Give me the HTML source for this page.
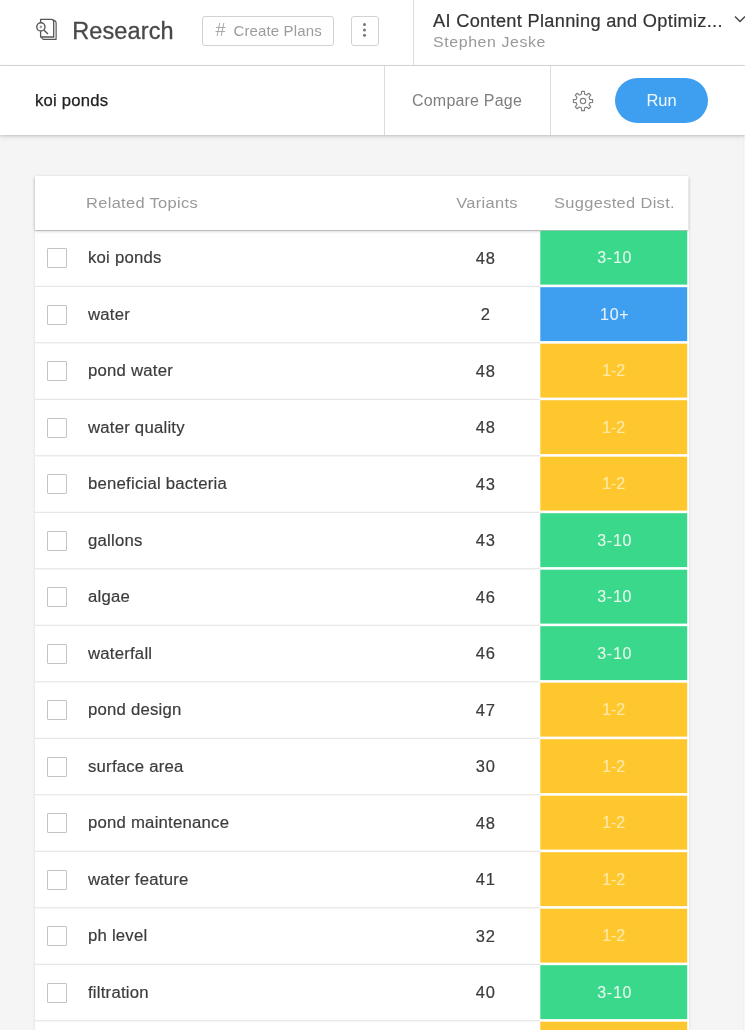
<!DOCTYPE html>
<html><head><meta charset="utf-8">
<style>
*{box-sizing:border-box;margin:0;padding:0}
html,body{width:745px;height:1030px;overflow:hidden;background:#f5f5f5;font-family:"Liberation Sans",sans-serif;color:#333}
.top{position:absolute;left:0;top:0;width:745px;height:66px;background:#fff;border-bottom:1px solid #dcdcdc}
.bar{position:absolute;left:0;top:66px;width:745px;height:68.8px;background:#fff;box-shadow:0 1px 2.5px rgba(0,0,0,.16),0 2px 6px rgba(0,0,0,.08)}
.abs{position:absolute;white-space:nowrap}
.vline{position:absolute;width:1px;background:#dcdcdc}
.btn{position:absolute;border:1px solid #d2d2d2;border-radius:3px;background:#fff;color:#8a8a8a}
.card{position:absolute;left:35px;top:176px;width:653.5px;height:900px;background:#fff;box-shadow:0 1.5px 3px rgba(0,0,0,.11)}
.hdr{position:absolute;left:0;top:0;width:653px;height:54px;box-shadow:0 1px 0 rgba(0,0,0,.13),0 1px 3px rgba(0,0,0,.24);color:#999;font-size:15.5px;letter-spacing:.31px}
.hdr .abs{transform:scaleX(1.06);transform-origin:50% 50%}
.row{position:absolute;left:0;width:653px;height:56.5px;font-size:15.8px;color:#3c3c3c}
.cb{position:absolute;left:12px;top:18px;width:20px;height:20px;border:1px solid #c4c4c4;border-radius:1px;background:#fff}
.nm{-webkit-text-stroke:.18px #3c3c3c;position:absolute;left:52.8px;top:0;line-height:55px;white-space:nowrap;letter-spacing:.2px;transform:scaleX(1.06);transform-origin:0 50%}
.vr{-webkit-text-stroke:.2px #3c3c3c;position:absolute;left:400.4px;top:.8px;width:100px;text-align:center;line-height:55px;font-size:16.5px;letter-spacing:.8px;text-indent:.8px}
.ds{position:absolute;left:505.6px;top:1px;width:146.6px;height:53.7px;color:#e6f8ee;text-align:center;line-height:53.6px;font-size:16px;letter-spacing:.75px;text-indent:1.6px}
.ds{-webkit-text-stroke:.12px currentColor}.b{color:#e4f1fd}.y{color:#ffe9a6;letter-spacing:0;text-indent:-.4px}
</style></head><body>
<div class="abs" style="left:742.5px;top:135px;width:3px;height:900px;background:#f7f7f7;border-left:1px solid #f0f0f0"></div>
<div class="top">
  <svg class="abs" style="left:28px;top:10px" width="40" height="40" viewBox="28 10 40 40" fill="none" stroke="#555" stroke-width="1.3" stroke-linejoin="round">
    <path d="M40.6 22.6V19.3H51.3a2.4 2.4 0 0 1 2.4 2.4V37H40.6V31.2"/><path d="M53.3 20.2q2.8.6 2.8 3V39.3H43.2L41.4 37.4" stroke-width="1.2"/><path d="M54.9 22v16" stroke="#c4c4c4" stroke-width="1"/><circle cx="40.9" cy="26.9" r="4.1" stroke-width="1.4"/><path d="M43.8 30l4.2 3.9" stroke-width="1.4"/><path d="M39.6 26.9h2.6M40.9 25.6v2.6" stroke-width=".9" stroke="#777"/>
  </svg>
  <div class="abs" style="left:72.2px;top:16px;font-size:23.5px;color:#484848;line-height:30px;letter-spacing:.12px;-webkit-text-stroke:.3px #484848">Research</div>
  <div class="btn" style="left:202px;top:16px;width:132px;height:30px"></div>
  <div class="abs" style="left:215.5px;top:21px;font-size:18px;color:#aaa;line-height:18px">#</div>
  <div class="abs" style="left:233.5px;top:22px;font-size:15px;color:#9c9c9c;line-height:18px;letter-spacing:.13px">Create Plans</div>
  <div class="btn" style="left:351px;top:16px;width:28px;height:30px"></div>
  <div class="abs" style="left:363px;top:23px;width:3px;height:3px;border-radius:2px;background:#777;box-shadow:0 5.4px 0 #777,0 10.8px 0 #777"></div>
  <div class="vline" style="left:413px;top:0;height:66px"></div>
  <div class="abs" style="left:433px;top:10.6px;font-size:17.5px;color:#333;line-height:20px;letter-spacing:.3px;-webkit-text-stroke:.2px #333;transform:scaleX(1.04);transform-origin:0 50%">AI Content Planning and Optimiz...</div>
  <div class="abs" style="left:433px;top:32.6px;font-size:15px;color:#999;line-height:18px;letter-spacing:.57px;transform:scaleX(1.06);transform-origin:0 50%">Stephen Jeske</div>
  <svg class="abs" style="left:733px;top:13px" width="12" height="12" viewBox="0 0 12 12" fill="none" stroke="#444" stroke-width="1.4"><path d="M2 3.5l5 5 5-5"/></svg>
</div>
<div class="bar">
  <div class="abs" style="left:35px;top:25px;font-size:16px;color:#222;line-height:20px;letter-spacing:.21px;-webkit-text-stroke:.25px #222;transform:scaleX(1.04);transform-origin:0 50%">koi ponds</div>
  <div class="vline" style="left:384px;top:0;height:69px"></div>
  <div class="abs" style="left:412px;top:25px;font-size:16px;color:#7e7e7e;line-height:20px;letter-spacing:.2px">Compare Page</div>
  <div class="vline" style="left:550px;top:0;height:69px"></div>
  <svg class="abs" style="left:572px;top:23.9px" width="22" height="22" viewBox="0 0 22 22" fill="none" stroke="#808080" stroke-width="1.15" stroke-linejoin="round"><circle cx="11" cy="11" r="2.7"/><path d="M9.37 4.19 L9.65 1.39 L12.35 1.39 L12.63 4.19 L14.66 5.03 L16.84 3.25 L18.75 5.16 L16.97 7.34 L17.81 9.37 L20.61 9.65 L20.61 12.35 L17.81 12.63 L16.97 14.66 L18.75 16.84 L16.84 18.75 L14.66 16.97 L12.63 17.81 L12.35 20.61 L9.65 20.61 L9.37 17.81 L7.34 16.97 L5.16 18.75 L3.25 16.84 L5.03 14.66 L4.19 12.63 L1.39 12.35 L1.39 9.65 L4.19 9.37 L5.03 7.34 L3.25 5.16 L5.16 3.25 L7.34 5.03Z"/></svg>
  <div class="abs" style="left:614.8px;top:12px;width:93.6px;height:45px;border-radius:23px;background:#3e9ff0;color:#f2f8fe;font-size:16.5px;line-height:45px;text-align:center;letter-spacing:0">Run</div>
</div>
<div class="card">
  <div class="hdr">
    <div class="abs" style="left:51px;top:0;line-height:54px;transform-origin:0 50%">Related Topics</div>
    <div class="abs" style="left:400px;width:104px;text-align:center;top:0;line-height:54px">Variants</div>
    <div class="abs" style="left:506px;width:147px;text-align:center;top:0;line-height:54px">Suggested Dist.</div>
  </div>
  <div id="rows">
<svg class="abs" style="left:0;top:0" width="654" height="860" viewBox="0 0 654 860"><rect x="505.3" y="54.7" width="146.9" height="53.9" fill="#3ad88a"/><rect x="0" y="109.8" width="505.3" height="1" fill="#e2e2e2"/><rect x="505.3" y="111.2" width="146.9" height="53.9" fill="#3e9ff0"/><rect x="0" y="166.3" width="505.3" height="1" fill="#e2e2e2"/><rect x="505.3" y="167.7" width="146.9" height="53.9" fill="#ffc72e"/><rect x="0" y="222.8" width="505.3" height="1" fill="#e2e2e2"/><rect x="505.3" y="224.2" width="146.9" height="53.9" fill="#ffc72e"/><rect x="0" y="279.3" width="505.3" height="1" fill="#e2e2e2"/><rect x="505.3" y="280.7" width="146.9" height="53.9" fill="#ffc72e"/><rect x="0" y="335.8" width="505.3" height="1" fill="#e2e2e2"/><rect x="505.3" y="337.2" width="146.9" height="53.9" fill="#3ad88a"/><rect x="0" y="392.3" width="505.3" height="1" fill="#e2e2e2"/><rect x="505.3" y="393.7" width="146.9" height="53.9" fill="#3ad88a"/><rect x="0" y="448.8" width="505.3" height="1" fill="#e2e2e2"/><rect x="505.3" y="450.2" width="146.9" height="53.9" fill="#3ad88a"/><rect x="0" y="505.3" width="505.3" height="1" fill="#e2e2e2"/><rect x="505.3" y="506.7" width="146.9" height="53.9" fill="#ffc72e"/><rect x="0" y="561.8" width="505.3" height="1" fill="#e2e2e2"/><rect x="505.3" y="563.2" width="146.9" height="53.9" fill="#ffc72e"/><rect x="0" y="618.3" width="505.3" height="1" fill="#e2e2e2"/><rect x="505.3" y="619.7" width="146.9" height="53.9" fill="#ffc72e"/><rect x="0" y="674.8" width="505.3" height="1" fill="#e2e2e2"/><rect x="505.3" y="676.2" width="146.9" height="53.9" fill="#ffc72e"/><rect x="0" y="731.3" width="505.3" height="1" fill="#e2e2e2"/><rect x="505.3" y="732.7" width="146.9" height="53.9" fill="#ffc72e"/><rect x="0" y="787.8" width="505.3" height="1" fill="#e2e2e2"/><rect x="505.3" y="789.2" width="146.9" height="53.9" fill="#3ad88a"/><rect x="0" y="844.3" width="505.3" height="1" fill="#e2e2e2"/><rect x="505.3" y="845.7" width="146.9" height="53.9" fill="#ffc72e"/><rect x="0" y="900.8" width="505.3" height="1" fill="#e2e2e2"/></svg>
<div class="row" style="top:54.0px"><div class="cb"></div><div class="nm">koi ponds</div><div class="vr">48</div><div class="ds g">3-10</div></div>
<div class="row" style="top:110.5px"><div class="cb"></div><div class="nm">water</div><div class="vr">2</div><div class="ds b">10+</div></div>
<div class="row" style="top:167.0px"><div class="cb"></div><div class="nm">pond water</div><div class="vr">48</div><div class="ds y">1-2</div></div>
<div class="row" style="top:223.5px"><div class="cb"></div><div class="nm">water quality</div><div class="vr">48</div><div class="ds y">1-2</div></div>
<div class="row" style="top:280.0px"><div class="cb"></div><div class="nm">beneficial bacteria</div><div class="vr">43</div><div class="ds y">1-2</div></div>
<div class="row" style="top:336.5px"><div class="cb"></div><div class="nm">gallons</div><div class="vr">43</div><div class="ds g">3-10</div></div>
<div class="row" style="top:393.0px"><div class="cb"></div><div class="nm">algae</div><div class="vr">46</div><div class="ds g">3-10</div></div>
<div class="row" style="top:449.5px"><div class="cb"></div><div class="nm">waterfall</div><div class="vr">46</div><div class="ds g">3-10</div></div>
<div class="row" style="top:506.0px"><div class="cb"></div><div class="nm">pond design</div><div class="vr">47</div><div class="ds y">1-2</div></div>
<div class="row" style="top:562.5px"><div class="cb"></div><div class="nm">surface area</div><div class="vr">30</div><div class="ds y">1-2</div></div>
<div class="row" style="top:619.0px"><div class="cb"></div><div class="nm">pond maintenance</div><div class="vr">48</div><div class="ds y">1-2</div></div>
<div class="row" style="top:675.5px"><div class="cb"></div><div class="nm">water feature</div><div class="vr">41</div><div class="ds y">1-2</div></div>
<div class="row" style="top:732.0px"><div class="cb"></div><div class="nm">ph level</div><div class="vr">32</div><div class="ds y">1-2</div></div>
<div class="row" style="top:788.5px"><div class="cb"></div><div class="nm">filtration</div><div class="vr">40</div><div class="ds g">3-10</div></div>
<div class="row" style="top:845.0px"><div class="cb"></div></div>
</div>
</div>
</body></html>
